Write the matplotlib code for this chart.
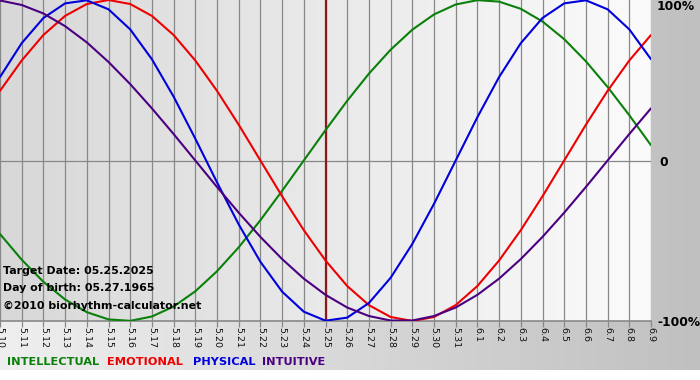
import matplotlib
matplotlib.use("Agg")
import matplotlib.pyplot as plt
import numpy as np
from matplotlib.colors import LinearSegmentedColormap

# jours affichés (5.10 -> 6.9)
dates = ["5.10", "5.11", "5.12", "5.13", "5.14", "5.15", "5.16", "5.17", "5.18", "5.19",
         "5.20", "5.21", "5.22", "5.23", "5.24", "5.25", "5.26", "5.27", "5.28", "5.29",
         "5.30", "5.31", "6.1", "6.2", "6.3", "6.4", "6.5", "6.6", "6.7", "6.8", "6.9"]

# valeurs (-1 .. 1)
intellectual = [-0.458, -0.618, -0.756, -0.866, -0.945, -0.990, -0.999, -0.972, -0.910, -0.815,
                -0.690, -0.541, -0.372, -0.189, 0.0, 0.189, 0.372, 0.541, 0.690, 0.815,
                0.910, 0.972, 0.999, 0.990, 0.945, 0.866, 0.756, 0.618, 0.458, 0.282, 0.095]
emotional = [0.434, 0.623, 0.782, 0.901, 0.975, 1.0, 0.975, 0.901, 0.782, 0.623,
             0.434, 0.223, 0.0, -0.223, -0.434, -0.623, -0.782, -0.901, -0.975, -1.0,
             -0.975, -0.901, -0.782, -0.623, -0.434, -0.223, 0.0, 0.223, 0.434, 0.623, 0.782]
physical = [0.520, 0.731, 0.888, 0.979, 0.998, 0.942, 0.817, 0.631, 0.398, 0.136,
            -0.136, -0.398, -0.631, -0.817, -0.942, -0.998, -0.979, -0.888, -0.731, -0.520,
            -0.270, 0.0, 0.270, 0.520, 0.731, 0.888, 0.979, 0.998, 0.942, 0.817, 0.631]
intuitive = [0.997, 0.969, 0.916, 0.837, 0.736, 0.614, 0.476, 0.325, 0.165, 0.0,
             -0.165, -0.325, -0.476, -0.614, -0.736, -0.837, -0.916, -0.969, -0.997, -0.997,
             -0.969, -0.916, -0.837, -0.736, -0.614, -0.476, -0.325, -0.165, 0.0, 0.165, 0.325]

target_idx = dates.index("5.25")

series = [("INTELLECTUAL", intellectual, "#0a800a"),
          ("EMOTIONAL", emotional, "#ee0000"),
          ("PHYSICAL", physical, "#0000dd"),
          ("INTUITIVE", intuitive, "#4b0082")]

plt.rcParams['font.family'] = ['DejaVu Sans']

W, H = 700, 380
fig = plt.figure(figsize=(W / 100, H / 100), dpi=100)
fig.patch.set_facecolor("white")

# fond gris dégradé
bg = fig.add_axes([0, 10 / H, 1, 370 / H], zorder=-5)
bg.imshow(np.linspace(0, 1, 256)[None, :], aspect="auto", extent=[0, 1, 0, 1],
          cmap=LinearSegmentedColormap.from_list("bg", ["#efefef", "#c0c0c0"]))
bg.set_axis_off()

ax = fig.add_axes([0, 1 - 321 / H, 651 / W, 321 / H])
ax.set_facecolor("none")
ax.imshow(np.linspace(0, 1, 256)[None, :], aspect="auto", extent=[0, 1, 0, 1],
          transform=ax.transAxes, zorder=0,
          cmap=LinearSegmentedColormap.from_list("pa", ["#d8d8d8", "#fbfbfb"]))

x = np.arange(len(dates))
for i in x:
    ax.axvline(i, color="#888888", lw=0.9, zorder=1)
ax.axhline(0, color="#888888", lw=0.9, zorder=1)
ax.axhline(-1, color="#888888", lw=1.2, zorder=1, clip_on=False)
ax.axvline(target_idx, color="#8b1a1a", lw=1.6, zorder=2)

for name, vals, col in series:
    ax.plot(x, vals, color=col, lw=1.5, zorder=3, solid_capstyle="round")

ax.set_xlim(0, len(dates) - 1)
ax.set_ylim(-1, 1)
for s in ax.spines.values():
    s.set_visible(False)
ax.set_yticks([])
ax.set_xticks(x)
ax.set_xticklabels(dates, rotation=270, fontsize=6.8, color="#111111")
ax.tick_params(axis="x", length=4, width=0.9, color="#888888", pad=0.5)

# étiquettes à droite
fig.text(657 / W, 1 - 7 / H, "100%", fontsize=8.8, weight="bold", va="center", ha="left")
fig.text(659 / W, 1 - 162 / H, "0", fontsize=8.8, weight="bold", va="center", ha="left")
fig.text(657 / W, 1 - 322 / H, "-100%", fontsize=8.8, weight="bold", va="center", ha="left")

# infos
ax.text(3 / 651, 1 - 271 / 321, "Target Date: 05.25.2025", transform=ax.transAxes,
        fontsize=7.9, weight="bold", va="center", zorder=4)
ax.text(3 / 651, 1 - 288 / 321, "Day of birth: 05.27.1965", transform=ax.transAxes,
        fontsize=7.9, weight="bold", va="center", zorder=4)
ax.text(3 / 651, 1 - 306 / 321, "\u00a92010 biorhythm-calculator.net", transform=ax.transAxes,
        fontsize=7.9, weight="bold", va="center", zorder=4)

# légende
legend_x = [7, 107, 193, 262]
for (name, vals, col), lx in zip(series, legend_x):
    fig.text(lx / W, 1 - 362 / H, name, color=col, fontsize=8.2, weight="bold",
             va="center", ha="left")

fig.savefig("out.png", dpi=100)
